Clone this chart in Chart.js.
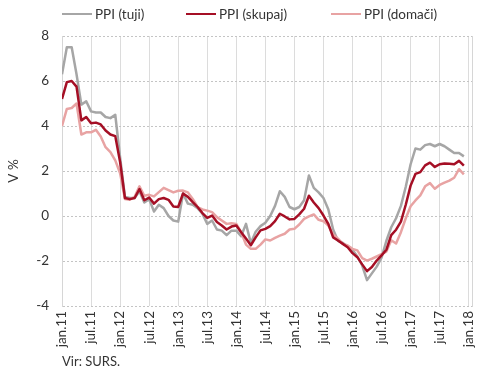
<!DOCTYPE html>
<html><head><meta charset="utf-8">
<script src="https://cdn.jsdelivr.net/npm/chart.js@4.4.1/dist/chart.umd.min.js"></script>
<style>
html,body{margin:0;padding:0;background:#fff;}
#wrap{position:relative;width:490px;height:380px;font-family:Lato,"Open Sans",sans-serif;color:#333;}
canvas{position:absolute;left:0;top:0;}
.lg{position:absolute;top:5px;height:18px;display:flex;align-items:center;font-size:13.5px;white-space:nowrap;color:#333;}
.lg i{display:inline-block;width:30px;height:2.5px;margin-right:3px;}
#src{position:absolute;left:62px;top:353px;font-size:13px;color:#333;}
</style></head>
<body><div id="wrap"><canvas id="c" width="490" height="380"></canvas><div id="legend"></div><div id="src">Vir: SURS.</div></div>
<script>
const seriesNames = ['PPI (tuji)', 'PPI (skupaj)', 'PPI (domači)'];
const tickLabels = ['jan.11','jul.11','jan.12','jul.12','jan.13','jul.13','jan.14','jul.14','jan.15','jul.15','jan.16','jul.16','jan.17','jul.17','jan.18'];
// monthly values jan.11 ... dec.17
const tuji = [6.3,7.5,7.5,6.3,4.95,5.1,4.65,4.6,4.6,4.4,4.35,4.5,
  2.6,0.85,0.8,0.8,1.1,0.6,0.75,0.2,0.5,0.35,0.0,-0.2,
  -0.25,1.0,0.55,0.5,0.35,0.1,-0.35,-0.2,-0.6,-0.65,-0.85,-0.65,
  -0.65,-0.9,-0.35,-1.2,-0.7,-0.45,-0.3,0.0,0.45,1.1,0.85,0.4,
  0.3,0.4,0.7,1.8,1.25,1.05,0.8,0.3,-0.6,-1.1,-1.2,-1.35,
  -1.5,-1.8,-2.2,-2.85,-2.55,-2.25,-1.85,-1.1,-0.5,-0.1,0.45,1.3,
  2.3,3.0,2.95,3.15,3.2,3.1,3.2,3.1,2.95,2.8,2.8,2.65];
const skupaj = [5.2,5.95,6.0,5.75,4.25,4.4,4.12,4.15,4.07,3.8,3.62,3.55,
  2.4,0.8,0.75,0.8,1.2,0.7,0.82,0.55,0.75,0.8,0.72,0.42,
  0.4,1.0,0.85,0.62,0.4,0.13,-0.08,0.02,-0.27,-0.42,-0.6,-0.47,
  -0.42,-0.72,-1.0,-1.3,-0.95,-0.64,-0.57,-0.45,-0.23,0.1,-0.02,-0.15,
  -0.13,0.07,0.32,0.9,0.6,0.35,0.02,-0.35,-0.95,-1.09,-1.24,-1.39,
  -1.65,-1.83,-2.15,-2.45,-2.27,-1.98,-1.75,-1.5,-0.85,-0.61,-0.25,0.5,
  1.35,1.87,1.95,2.25,2.37,2.18,2.3,2.33,2.32,2.3,2.45,2.24];
const domaci = [4.0,4.76,4.8,5.0,3.62,3.72,3.72,3.83,3.53,3.06,2.84,2.47,
  1.9,0.76,0.72,0.85,1.32,0.9,0.94,0.87,1.06,1.25,1.15,1.05,
  1.12,1.13,1.05,0.76,0.4,0.29,0.24,0.17,-0.05,-0.2,-0.35,-0.32,
  -0.35,-0.72,-1.27,-1.46,-1.46,-1.27,-1.04,-1.09,-0.97,-0.87,-0.79,-0.6,
  -0.57,-0.38,-0.13,-0.02,0.07,-0.17,-0.23,-0.42,-0.82,-1.01,-1.24,-1.31,
  -1.46,-1.53,-1.87,-1.98,-1.9,-1.8,-1.7,-1.58,-1.08,-1.22,-0.72,-0.1,
  0.43,0.69,0.92,1.32,1.46,1.21,1.38,1.48,1.57,1.7,2.08,1.85];
const yMin = -4, yMax = 8, yStep = 2;

const colors = ['#a6a6a6', '#a50f25', '#e8a3a3'];
const drawOrder = [2, 0, 1];
const font = {family: 'Lato, "Open Sans", sans-serif', size: 13.5};

const seriesList = [tuji, skupaj, domaci];
const datasets = seriesList.map((arr, k) => ({
  label: seriesNames[k],
  data: arr.map((v, i) => ({x: i, y: v})),
  borderColor: colors[k],
  backgroundColor: colors[k],
  borderWidth: 2.5,
  pointRadius: 0,
  tension: 0,
  fill: false,
  order: drawOrder[k],
  borderJoinStyle: 'round'
}));

const chart = new Chart(document.getElementById('c'), {
  type: 'line',
  data: {datasets},
  options: {
    responsive: false,
    animation: false,
    devicePixelRatio: 1,
    layout: {padding: {left: 0, right: 10, top: 36, bottom: 32}},
    plugins: {legend: {display: false}, tooltip: {enabled: false}},
    scales: {
      x: {
        type: 'linear',
        min: 0,
        max: 84.8,
        afterBuildTicks: (s) => { s.ticks = tickLabels.map((l, k) => ({value: k * 6})); },
        afterFit: (s) => { s.height = 42; },
        ticks: {
          autoSkip: false, minRotation: 90, maxRotation: 90, padding: 5,
          font, color: '#333',
          callback: (v) => tickLabels[Math.round(v / 6)]
        },
        grid: {color: '#dcdcdc', lineWidth: 1, drawTicks: false},
        border: {display: false}
      },
      y: {
        min: yMin, max: yMax,
        afterFit: (s) => { s.width = 62; },
        ticks: {stepSize: yStep, font, color: '#333', padding: 13},
        grid: {color: '#c4c4c4', lineWidth: 1, drawTicks: false},
        border: {display: true, color: '#d6d6d6', dash: [2, 2]},
        title: {display: true, text: 'V %', font, color: '#333', padding: {top: 6, bottom: 0}}
      },
      yR: {
        position: 'right',
        min: yMin, max: yMax,
        afterFit: (s) => { s.width = 0; },
        ticks: {display: false},
        grid: {drawOnChartArea: false, drawTicks: false},
        border: {display: true, color: '#d6d6d6'}
      }
    }
  }
});

const legendLeft = [62, 186, 331];
const lg = document.getElementById('legend');
chart.data.datasets.forEach((ds, k) => {
  const d = document.createElement('div');
  d.className = 'lg';
  d.style.left = legendLeft[k] + 'px';
  const line = document.createElement('i');
  line.style.background = ds.borderColor;
  d.appendChild(line);
  d.appendChild(document.createTextNode(ds.label));
  lg.appendChild(d);
});
</script>
</body></html>
